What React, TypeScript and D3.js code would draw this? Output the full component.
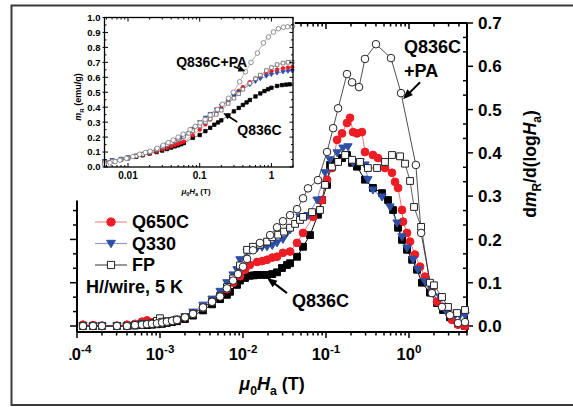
import React, { useEffect, useRef } from "react";
import * as d3 from "d3";

type Pt = [number, number];

// ---------- main panel: dmR/d(log Ha) vs mu0Ha (T) ----------
const q836cPA: Pt[] = [
  [1.18e-4, 0], [1.56e-4, 0], [2.0e-4, 0], [3.03e-4, 0], [4.0e-4, 0], [5.0e-4, 0.002], [6.07e-4, 0.003],
  [6.97e-4, 0.004], [8.0e-4, 0.005], [9.2e-4, 0.006], [1.06e-3, 0.008], [1.21e-3, 0.01], [1.4e-3, 0.012],
  [1.6e-3, 0.014], [2.0e-3, 0.02], [2.5e-3, 0.028], [3.3e-3, 0.043], [4.24e-3, 0.056], [5.3e-3, 0.068],
  [6.4e-3, 0.087], [7.6e-3, 0.105], [8.7e-3, 0.12], [0.01, 0.137], [0.0112, 0.155], [0.0132, 0.175],
  [0.016, 0.192], [0.0212, 0.21], [0.0257, 0.228], [0.0303, 0.242], [0.0369, 0.256], [0.0448, 0.27],
  [0.0529, 0.295], [0.0607, 0.318], [0.08, 0.337], [0.103, 0.402], [0.122, 0.457], [0.14, 0.503],
  [0.179, 0.582], [0.206, 0.563], [0.25, 0.552], [0.295, 0.617], [0.4, 0.651], [0.607, 0.619],
  [0.802, 0.538], [1.21, 0.372], [1.4, 0.215], [1.89, 0.076], [2.5, 0.044], [3.12, 0.025], [3.9, 0.007],
  [4.73, 0.009],
];

const q836c: Pt[] = [
  [1.18e-4, 0], [1.56e-4, 0], [2.0e-4, 0], [3.03e-4, 0], [4.0e-4, 0], [5.0e-4, 0.001], [6.07e-4, 0.002],
  [6.97e-4, 0.002], [8.0e-4, 0.003], [9.2e-4, 0.004], [1.06e-3, 0.005], [1.21e-3, 0.007], [1.4e-3, 0.009],
  [1.6e-3, 0.011], [2.0e-3, 0.016], [2.5e-3, 0.024], [3.3e-3, 0.036], [4.24e-3, 0.05], [5.3e-3, 0.062],
  [6.4e-3, 0.072], [6.97e-3, 0.079], [8.47e-3, 0.095], [9.2e-3, 0.105], [0.0106, 0.111], [0.0121, 0.116],
  [0.0135, 0.117], [0.0148, 0.118], [0.017, 0.118], [0.0195, 0.118], [0.0225, 0.12], [0.0257, 0.124],
  [0.0295, 0.134], [0.0339, 0.141], [0.0369, 0.145], [0.0448, 0.16], [0.0529, 0.183], [0.0642, 0.21],
  [0.08, 0.257], [0.0896, 0.291], [0.103, 0.326], [0.112, 0.372], [0.128, 0.379], [0.156, 0.388],
  [0.179, 0.395], [0.206, 0.377], [0.236, 0.368], [0.295, 0.338], [0.368, 0.319], [0.473, 0.307],
  [0.559, 0.291], [0.642, 0.268], [0.738, 0.227], [0.824, 0.199], [0.946, 0.176], [1.09, 0.153],
  [1.25, 0.13], [1.43, 0.1], [1.79, 0.077], [2.18, 0.053], [2.57, 0.037], [3.12, 0.02], [3.9, 0.005],
  [4.73, 0.0],
];

const q650c: Pt[] = [
  [1.18e-4, 0.003], [1.56e-4, 0.002], [2.0e-4, 0.001], [3.03e-4, 0.001], [4.0e-4, 0.003], [5.0e-4, 0.005],
  [6.07e-4, 0.01], [6.97e-4, 0.013], [8.0e-4, 0.009], [9.2e-4, 0.007], [1.06e-3, 0.008], [1.21e-3, 0.01],
  [1.4e-3, 0.012], [1.6e-3, 0.014], [2.0e-3, 0.02], [2.5e-3, 0.029], [3.3e-3, 0.044], [4.24e-3, 0.058],
  [5.3e-3, 0.072], [6.4e-3, 0.085], [7.6e-3, 0.1], [9.2e-3, 0.115], [0.0106, 0.13], [0.0121, 0.141],
  [0.0148, 0.148], [0.017, 0.15], [0.0195, 0.153], [0.0225, 0.158], [0.0257, 0.16], [0.0303, 0.169],
  [0.0369, 0.172], [0.0448, 0.192], [0.0529, 0.215], [0.0698, 0.252], [0.0896, 0.291], [0.103, 0.338],
  [0.118, 0.365], [0.136, 0.43], [0.156, 0.445], [0.179, 0.469], [0.195, 0.481], [0.212, 0.448],
  [0.236, 0.445], [0.271, 0.448], [0.295, 0.402], [0.368, 0.395], [0.423, 0.388], [0.514, 0.365],
  [0.624, 0.354], [0.679, 0.333], [0.738, 0.319], [0.824, 0.268], [0.847, 0.241], [0.946, 0.215],
  [1.03, 0.195], [1.18, 0.165], [1.36, 0.137], [1.56, 0.114], [1.89, 0.088], [2.18, 0.056],
  [2.57, 0.044], [3.3, 0.014], [3.9, 0.003], [4.73, 0.0],
];

const q330: Pt[] = [
  [1.18e-4, 0.001], [1.56e-4, 0], [2.0e-4, 0], [3.03e-4, 0], [4.0e-4, 0], [5.0e-4, 0.002], [6.07e-4, 0.006],
  [6.97e-4, 0.006], [8.0e-4, 0.004], [9.2e-4, 0.005], [1.06e-3, 0.007], [1.21e-3, 0.009], [1.4e-3, 0.011],
  [1.6e-3, 0.014], [2.0e-3, 0.021], [2.5e-3, 0.032], [3.3e-3, 0.048], [4.24e-3, 0.062], [5.3e-3, 0.08],
  [6.4e-3, 0.1], [7.6e-3, 0.118], [8.47e-3, 0.13], [9.2e-3, 0.153], [0.0112, 0.171], [0.0148, 0.18],
  [0.017, 0.182], [0.0195, 0.183], [0.0225, 0.186], [0.0257, 0.192], [0.0303, 0.2], [0.0339, 0.215],
  [0.0369, 0.222], [0.0486, 0.252], [0.0607, 0.255], [0.078, 0.291], [0.0974, 0.354], [0.112, 0.384],
  [0.136, 0.4], [0.16, 0.411], [0.184, 0.414], [0.212, 0.377], [0.257, 0.379], [0.295, 0.372],
  [0.32, 0.338], [0.368, 0.314], [0.473, 0.298], [0.591, 0.275], [0.718, 0.238], [0.824, 0.206],
  [0.946, 0.18], [1.12, 0.153], [1.28, 0.13], [1.56, 0.102], [1.89, 0.084], [2.36, 0.067], [2.87, 0.03],
  [3.59, 0.025], [4.12, 0.025], [4.73, 0.025],
];

const fp: Pt[] = [
  [1.18e-4, 0], [1.56e-4, 0], [2.0e-4, 0], [3.03e-4, 0], [4.0e-4, 0], [5.0e-4, 0.002], [6.07e-4, 0.004],
  [6.97e-4, 0.005], [8.0e-4, 0.006], [9.2e-4, 0.012], [1.0e-3, 0.018], [1.06e-3, 0.01], [1.21e-3, 0.011],
  [1.4e-3, 0.012], [1.6e-3, 0.015], [2.0e-3, 0.02], [2.5e-3, 0.028], [3.3e-3, 0.042], [4.24e-3, 0.056],
  [5.3e-3, 0.07], [6.4e-3, 0.09], [7.6e-3, 0.11], [9.2e-3, 0.14], [0.0112, 0.176], [0.0132, 0.183],
  [0.016, 0.188], [0.0195, 0.195], [0.0225, 0.205], [0.0265, 0.211], [0.0312, 0.218], [0.0369, 0.227],
  [0.0424, 0.236], [0.0486, 0.245], [0.0529, 0.252], [0.0679, 0.263], [0.0847, 0.268], [0.0974, 0.326],
  [0.118, 0.368], [0.14, 0.379], [0.17, 0.395], [0.206, 0.384], [0.257, 0.379], [0.32, 0.365],
  [0.412, 0.365], [0.514, 0.379], [0.624, 0.395], [0.78, 0.392], [0.896, 0.375], [1.03, 0.335],
  [1.15, 0.275], [1.4, 0.229], [1.79, 0.1], [2.0, 0.094], [2.5, 0.067], [2.95, 0.044], [3.79, 0.03],
  [4.73, 0.037],
];

// ---------- inset: mR (emu/g) vs mu0Ha (T) ----------
const inQ836cPA: Pt[] = [
  [0.0047, 0.02], [0.0056, 0.028], [0.0066, 0.036], [0.0077, 0.045], [0.0095, 0.058], [0.0117, 0.07],
  [0.0145, 0.085], [0.0175, 0.097], [0.0203, 0.105], [0.0255, 0.125], [0.0309, 0.145], [0.0363, 0.163],
  [0.0426, 0.18], [0.05, 0.2], [0.0587, 0.22], [0.0736, 0.25], [0.0868, 0.272], [0.1017, 0.295],
  [0.119, 0.318], [0.14, 0.348], [0.176, 0.385], [0.207, 0.42], [0.251, 0.46], [0.294, 0.5],
  [0.36, 0.57], [0.433, 0.637], [0.52, 0.7], [0.637, 0.762], [0.773, 0.83], [0.908, 0.87],
  [1.07, 0.903], [1.25, 0.925], [1.47, 0.935], [1.68, 0.938], [1.97, 0.94],
];
const inFP: Pt[] = [
  [0.0047, 0.033], [0.006, 0.04], [0.008, 0.05], [0.01, 0.06], [0.013, 0.073], [0.016, 0.085], [0.02, 0.1],
  [0.025, 0.117], [0.03, 0.135], [0.035, 0.15], [0.04, 0.163], [0.045, 0.175], [0.05, 0.187], [0.06, 0.205],
  [0.07, 0.225], [0.08, 0.243], [0.1, 0.275], [0.12, 0.3], [0.14, 0.322], [0.17, 0.352], [0.2, 0.38],
  [0.25, 0.425], [0.3, 0.46], [0.35, 0.49], [0.4, 0.52], [0.5, 0.56], [0.6, 0.59], [0.7, 0.615],
  [0.85, 0.645], [1.0, 0.665], [1.2, 0.685], [1.45, 0.695], [1.7, 0.7], [1.95, 0.702],
];
const inQ650c: Pt[] = [
  [0.0047, 0.04], [0.006, 0.045], [0.008, 0.053], [0.01, 0.062], [0.013, 0.072], [0.016, 0.082], [0.02, 0.093],
  [0.025, 0.105], [0.03, 0.118], [0.035, 0.128], [0.04, 0.138], [0.045, 0.147], [0.05, 0.155], [0.055, 0.163],
  [0.06, 0.17], [0.08, 0.212], [0.1, 0.25], [0.12, 0.285], [0.14, 0.318], [0.17, 0.36], [0.2, 0.395],
  [0.25, 0.445], [0.3, 0.482], [0.35, 0.51], [0.4, 0.535], [0.5, 0.568], [0.6, 0.592], [0.7, 0.61],
  [0.85, 0.628], [1.0, 0.64], [1.2, 0.652], [1.45, 0.66], [1.7, 0.665], [1.95, 0.668],
];
const inQ330: Pt[] = [
  [0.0047, 0.04], [0.006, 0.046], [0.008, 0.055], [0.01, 0.065], [0.013, 0.077], [0.016, 0.088], [0.02, 0.1],
  [0.025, 0.115], [0.03, 0.13], [0.035, 0.145], [0.04, 0.16], [0.045, 0.172], [0.05, 0.183], [0.055, 0.195],
  [0.06, 0.205], [0.08, 0.255], [0.1, 0.3], [0.12, 0.33], [0.14, 0.355], [0.17, 0.385], [0.2, 0.41],
  [0.25, 0.445], [0.3, 0.475], [0.35, 0.5], [0.4, 0.52], [0.5, 0.55], [0.6, 0.572], [0.7, 0.59],
  [0.85, 0.607], [1.0, 0.618], [1.2, 0.628], [1.45, 0.636], [1.7, 0.64], [1.95, 0.642],
];
const inQ836c: Pt[] = [
  [0.0047, 0.035], [0.006, 0.04], [0.008, 0.05], [0.01, 0.058], [0.013, 0.068], [0.016, 0.078], [0.02, 0.09],
  [0.025, 0.1], [0.03, 0.11], [0.035, 0.12], [0.04, 0.13], [0.045, 0.138], [0.05, 0.145], [0.055, 0.152],
  [0.06, 0.16], [0.08, 0.195], [0.1, 0.214], [0.12, 0.24], [0.14, 0.262], [0.16, 0.283], [0.18, 0.298],
  [0.2, 0.312], [0.25, 0.345], [0.3, 0.372], [0.35, 0.395], [0.4, 0.415], [0.45, 0.432], [0.5, 0.448],
  [0.6, 0.472], [0.7, 0.492], [0.8, 0.508], [0.9, 0.52], [1.0, 0.53], [1.2, 0.542], [1.4, 0.548],
  [1.6, 0.551], [1.8, 0.553],
];

const mainYTicks = [0, 0.1, 0.2, 0.3, 0.4, 0.5, 0.6, 0.7];
const mainXDecades = [-4, -3, -2, -1, 0];
const insetYTicks = [0, 0.1, 0.2, 0.3, 0.4, 0.5, 0.6, 0.7, 0.8, 0.9, 1.0];
const insetXTicks = [0.01, 0.1, 1];
const insetXTickLabels = ["0.01", "0.1", "1"];
const legendNames = ["Q650C", "Q330", "FP"];

const FONT = "'Liberation Sans', Arial, Helvetica, sans-serif";

type Part = { t: string; italic?: boolean; sub?: boolean; sup?: boolean };

function rich(sel: any, parts: Part[], base: number) {
  let shift = 0;
  parts.forEach((p) => {
    let target = 0;
    let size = base;
    if (p.sub) { target = base * 0.3; size = base * 0.68; }
    if (p.sup) { target = -base * 0.45; size = base * 0.7; }
    const ts = sel.append("tspan").text(p.t).attr("font-size", size).attr("dy", target - shift);
    if (p.italic) ts.attr("font-style", "italic");
    shift = target;
  });
}

function markerPath(kind: string, s: number): string {
  const h = s / 2;
  if (kind === "square") return `M${-h},${-h}h${s}v${s}h${-s}Z`;
  if (kind === "tri") return `M${-h * 1.1},${-h * 0.8}L${h * 1.1},${-h * 0.8}L0,${h * 1.05}Z`;
  return `M${-h},0a${h},${h} 0 1,0 ${s},0a${h},${h} 0 1,0 ${-s},0Z`;
}

function arrow(g: any, x1: number, y1: number, x2: number, y2: number, hl: number, hw: number, sw: number) {
  const dx = x2 - x1, dy = y2 - y1, L = Math.hypot(dx, dy);
  const ux = dx / L, uy = dy / L;
  const bx = x2 - ux * hl, by = y2 - uy * hl;
  g.append("line").attr("x1", x1).attr("y1", y1).attr("x2", bx + ux).attr("y2", by + uy)
    .attr("stroke", "#000").attr("stroke-width", sw);
  g.append("path")
    .attr("d", `M${x2},${y2}L${bx - (uy * hw) / 2},${by + (ux * hw) / 2}L${bx + (uy * hw) / 2},${by - (ux * hw) / 2}Z`)
    .attr("fill", "#000");
}

export default function App() {
  const ref = useRef<SVGSVGElement>(null);

  useEffect(() => {
    const svg = d3.select(ref.current);
    svg.selectAll("*").remove();
    svg.attr("font-family", FONT).attr("font-weight", "bold");

    // outer frame
    svg.append("rect").attr("x", 11.5).attr("y", 5.5).attr("width", 620).attr("height", 399.5)
      .attr("fill", "none").attr("stroke", "#3a3a3a").attr("stroke-width", 2);

    // ---------------- main panel ----------------
    const mx = d3.scaleLog().domain([1e-4, 5]).range([77, 467]);
    const my = d3.scaleLinear().domain([0, 0.7]).range([326, 23]);
    const L = mx(1e-4), R = mx(5), T = my(0.7), B = my(-0.014);
    const leftTopVal = 0.29;
    const topStartH = 0.042;

    const g = svg.append("g");
    const ax = g.append("g").attr("stroke", "#000").attr("fill", "none");
    ax.append("line").attr("x1", L).attr("x2", R).attr("y1", B).attr("y2", B).attr("stroke-width", 2);
    ax.append("line").attr("x1", R).attr("x2", R).attr("y1", T).attr("y2", B).attr("stroke-width", 2);
    ax.append("line").attr("x1", mx(topStartH)).attr("x2", R).attr("y1", T).attr("y2", T).attr("stroke-width", 2);
    ax.append("line").attr("x1", L).attr("x2", L).attr("y1", my(leftTopVal)).attr("y2", B).attr("stroke-width", 2);

    mainXDecades.forEach((d) => {
      for (let k = 1; k <= 9; k++) {
        const v = k * Math.pow(10, d);
        if (v > 5.0001) break;
        const x = mx(v);
        const len = k === 1 ? 6 : 3.5;
        ax.append("line").attr("x1", x).attr("x2", x).attr("y1", B).attr("y2", B + len).attr("stroke-width", 1.5);
        if (v >= topStartH) ax.append("line").attr("x1", x).attr("x2", x).attr("y1", T).attr("y2", T + len).attr("stroke-width", 1.5);
      }
    });
    for (let i = 0; i <= 21; i++) {
      const v = i / 30;
      const y = my(v);
      const major = i % 3 === 0;
      if (major) ax.append("line").attr("x1", R).attr("x2", R + 6).attr("y1", y).attr("y2", y).attr("stroke-width", 1.5);
      else ax.append("line").attr("x1", R).attr("x2", R - 4).attr("y1", y).attr("y2", y).attr("stroke-width", 1.5);
      if (v <= leftTopVal) {
        ax.append("line").attr("x1", L).attr("x2", L - (major ? 7 : 4)).attr("y1", y).attr("y2", y).attr("stroke-width", 1.5);
      }
    }

    mainYTicks.forEach((v) => {
      g.append("text").attr("x", R + 11).attr("y", my(v)).attr("dy", "0.36em")
        .attr("font-size", 17).text(v.toFixed(1));
    });
    svg.append("defs").append("clipPath").attr("id", "xlabclip")
      .append("rect").attr("x", 69.5).attr("y", 0).attr("width", 600).attr("height", 407);
    mainXDecades.forEach((d) => {
      const t = g.append("text").attr("x", mx(Math.pow(10, d))).attr("y", 360)
        .attr("text-anchor", "middle").attr("font-size", 16.5).attr("clip-path", "url(#xlabclip)");
      rich(t, [{ t: "10" }, { t: `${d === 0 ? "0" : "-" + Math.abs(d)}`, sup: true }], 16.5);
    });

    const xt = g.append("text").attr("x", 272).attr("y", 390).attr("text-anchor", "middle").attr("font-size", 18);
    rich(xt, [{ t: "μ", italic: true }, { t: "0", sub: true }, { t: "H", italic: true }, { t: "a", sub: true }, { t: " (T)" }], 18);
    const yt = g.append("text").attr("transform", "translate(536,164) rotate(-90)").attr("text-anchor", "middle").attr("font-size", 17.5);
    rich(yt, [{ t: "d" }, { t: "m", italic: true }, { t: "R", sub: true }, { t: "/d(log" }, { t: "H", italic: true }, { t: "a", sub: true }, { t: ")" }], 17.5);

    const series = [
      { data: q836c, kind: "square", size: 6.8, fill: "#000", stroke: "#000", line: "#000", lw: 1 },
      { data: q650c, kind: "circle", size: 7.8, fill: "#ee1c24", stroke: "#ee1c24", line: "#f25050", lw: 0.8 },
      { data: q330, kind: "tri", size: 7.6, fill: "#2e4fa6", stroke: "#2e4fa6", line: "#5a70c0", lw: 0.8 },
      { data: fp, kind: "square", size: 6.8, fill: "#fff", stroke: "#222", line: "#333", lw: 0.8 },
      { data: q836cPA, kind: "circle", size: 7.6, fill: "#fff", stroke: "#222", line: "#222", lw: 0.8 },
    ];
    const mline = d3.line<Pt>().x((d) => mx(d[0])).y((d) => my(d[1]));
    series.forEach((s) => {
      g.append("path").attr("d", mline(s.data)).attr("fill", "none").attr("stroke", s.line).attr("stroke-width", s.lw);
    });
    series.forEach((s) => {
      g.append("g").selectAll("path").data(s.data).join("path")
        .attr("d", markerPath(s.kind, s.size))
        .attr("transform", (d) => `translate(${mx(d[0])},${my(d[1])})`)
        .attr("fill", s.fill).attr("stroke", s.stroke).attr("stroke-width", 1);
    });

    const legStyles = [series[1], series[2], series[3]];
    const legY = [222, 243.5, 265];
    legendNames.forEach((name, i) => {
      const s = legStyles[i];
      const lg = g.append("g");
      lg.append("line").attr("x1", 95).attr("x2", 127).attr("y1", legY[i]).attr("y2", legY[i])
        .attr("stroke", i === 0 ? "#f58a8a" : i === 1 ? "#8f9bd0" : "#555").attr("stroke-width", 1.2);
      lg.append("path").attr("d", markerPath(s.kind, s.size + 0.4)).attr("transform", `translate(111,${legY[i]})`)
        .attr("fill", s.fill).attr("stroke", s.stroke).attr("stroke-width", 1);
      lg.append("text").attr("x", 132).attr("y", legY[i]).attr("dy", "0.36em").attr("font-size", 18).text(name);
    });
    g.append("text").attr("x", 86).attr("y", 287).attr("dy", "0.36em").attr("font-size", 18).text("H//wire, 5 K");

    g.append("text").attr("x", mx(0.0389)).attr("y", my(0.044)).attr("font-size", 18).text("Q836C");
    arrow(g, mx(0.0339), my(0.076), mx(0.0195), my(0.111), 10, 8, 2);
    g.append("text").attr("x", mx(0.871)).attr("y", my(0.63)).attr("font-size", 18).text("Q836C");
    g.append("text").attr("x", mx(0.871)).attr("y", my(0.575)).attr("font-size", 18).text("+PA");
    arrow(g, mx(1.36), my(0.563), mx(0.847), my(0.524), 10, 8, 2);

    // ---------------- inset ----------------
    svg.append("rect").attr("x", 14).attr("y", 8).attr("width", mx(topStartH) - 15).attr("height", my(leftTopVal) - 9)
      .attr("fill", "#fff");
    const ix = d3.scaleLog().domain([0.0047, 2]).range([104.5, 293]);
    const iy = d3.scaleLinear().domain([0, 1]).range([167, 17.5]);
    const ig = svg.append("g");
    const iL = ix(0.0047), iR = ix(2), iT = iy(1), iB = iy(0);
    const iline = d3.line<Pt>().x((d) => ix(d[0])).y((d) => iy(d[1]));
    const iseries = [
      { data: inQ836c, kind: "square", size: 3.4, fill: "#000", stroke: "#000", line: "#444" },
      { data: inQ650c, kind: "circle", size: 3.6, fill: "#ee1c24", stroke: "#ee1c24", line: "#f07070" },
      { data: inQ330, kind: "tri", size: 3.8, fill: "#2e4fa6", stroke: "#2e4fa6", line: "#7080c8" },
      { data: inFP, kind: "square", size: 3.6, fill: "#fff", stroke: "#666", line: "#888" },
      { data: inQ836cPA, kind: "circle", size: 4.6, fill: "#fff", stroke: "#777", line: "#999" },
    ];
    iseries.forEach((s) => {
      ig.append("path").attr("d", iline(s.data)).attr("fill", "none").attr("stroke", s.line).attr("stroke-width", 0.7);
    });
    iseries.forEach((s) => {
      ig.append("g").selectAll("path").data(s.data).join("path")
        .attr("d", markerPath(s.kind, s.size))
        .attr("transform", (d) => `translate(${ix(d[0])},${iy(d[1])})`)
        .attr("fill", s.fill).attr("stroke", s.stroke).attr("stroke-width", 0.8);
    });
    ig.append("rect").attr("x", iL).attr("y", iT).attr("width", iR - iL).attr("height", iB - iT)
      .attr("fill", "none").attr("stroke", "#000").attr("stroke-width", 1.3);
    const it = ig.append("g").attr("stroke", "#000").attr("stroke-width", 1);
    for (let i = 0; i <= 20; i++) {
      const v = i / 20;
      const y = iy(v);
      const major = i % 2 === 0;
      const len = major ? 3.5 : 2;
      it.append("line").attr("x1", iL).attr("x2", iL + len).attr("y1", y).attr("y2", y);
      it.append("line").attr("x1", iR).attr("x2", iR - len).attr("y1", y).attr("y2", y);
      if (major) it.append("line").attr("x1", iL).attr("x2", iL - 2).attr("y1", y).attr("y2", y);
    }
    [-3, -2, -1, 0].forEach((d) => {
      for (let k = 1; k <= 9; k++) {
        const v = k * Math.pow(10, d);
        if (v < 0.0047 || v > 2.0001) continue;
        const x = ix(v);
        const len = k === 1 ? 4 : 2;
        it.append("line").attr("x1", x).attr("x2", x).attr("y1", iB).attr("y2", iB - len);
        it.append("line").attr("x1", x).attr("x2", x).attr("y1", iT).attr("y2", iT + len);
      }
    });
    insetYTicks.forEach((v) => {
      ig.append("text").attr("x", iL - 4).attr("y", iy(v)).attr("dy", "0.36em").attr("text-anchor", "end")
        .attr("font-size", 9.5).text(v.toFixed(1));
    });
    insetXTicks.forEach((v, i) => {
      ig.append("text").attr("x", ix(v)).attr("y", 178.5).attr("text-anchor", "middle").attr("font-size", 10)
        .text(insetXTickLabels[i]);
    });
    const ixt = ig.append("text").attr("x", 196).attr("y", 194).attr("text-anchor", "middle").attr("font-size", 8);
    rich(ixt, [{ t: "μ", italic: true }, { t: "0", sub: true }, { t: "H", italic: true }, { t: "a", sub: true }, { t: " (T)" }], 8);
    const iyt = ig.append("text").attr("transform", "translate(81,97) rotate(-90)").attr("text-anchor", "middle").attr("font-size", 9);
    rich(iyt, [{ t: "m", italic: true }, { t: "R", sub: true }, { t: " (emu/g)" }], 9);

    ig.append("text").attr("x", ix(0.0469)).attr("y", iy(0.669)).attr("font-size", 14).text("Q836C+PA");
    arrow(ig, ix(0.3), iy(0.672), ix(0.433), iy(0.64), 7, 6, 1.6);
    ig.append("text").attr("x", ix(0.334)).attr("y", iy(0.214)).attr("font-size", 14).text("Q836C");
    arrow(ig, ix(0.334), iy(0.301), ix(0.213), iy(0.361), 7, 6, 1.6);
  }, []);

  return (
    <svg
      ref={ref}
      width={573}
      height={407}
      style={{ position: "absolute", left: 0, top: 0, background: "#fff" }}
    />
  );
}
